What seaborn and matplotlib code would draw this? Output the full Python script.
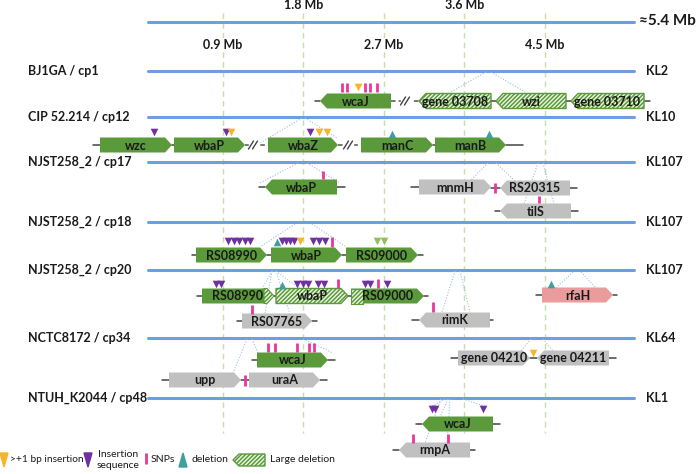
import matplotlib
matplotlib.use("Agg")
import matplotlib.pyplot as plt
from matplotlib.patches import Polygon, Rectangle
import pandas as pd
import seaborn as sns

# ---------------- data (schematic, pixel units) ----------------
mb_ticks = [0.9, 1.8, 2.7, 3.6, 4.5]
mb_top = ["1.8 Mb", "3.6 Mb"]
mb_low = ["0.9 Mb", "2.7 Mb", "4.5 Mb"]

genome_names = ["BJ1GA / cp1", "CIP 52.214 / cp12", "NJST258_2 / cp17", "NJST258_2 / cp18",
                "NJST258_2 / cp20", "NCTC8172 / cp34", "NTUH_K2044 / cp48"]
genome_kl = ["KL2", "KL10", "KL107", "KL107", "KL107", "KL64", "KL1"]
genome_y = [71, 117, 162, 222, 270, 338, 398]

gene_name = ["wcaJ", "gene 03708", "wzi", "gene 03710",
             "wzc", "wbaP", "wbaZ", "manC", "manB",
             "wbaP", "mnmH", "RS20315", "tilS",
             "RS08990", "wbaP", "RS09000",
             "RS08990", "wbaP", "RS09000", "RS07765", "rimK", "rfaH",
             "wcaJ", "upp", "uraA", "gene 04210", "gene 04211",
             "wcaJ", "rmpA"]
gene_x0 = [320, 419, 496, 571, 100, 174, 268, 361, 435, 265, 419, 500, 500,
           196, 271, 346, 202, 276, 351, 242, 419, 542, 257, 169, 249, 458, 537, 422, 399]
gene_x1 = [391, 491, 566, 644, 172, 245, 338, 433, 506, 337, 491, 570, 571,
           267, 342, 418, 274, 348, 424, 312, 490, 613, 328, 241, 320, 530, 609, 493, 470]
gene_y = [101, 101, 101, 101, 145, 145, 145, 145, 145, 187, 187, 188, 211,
          255, 255, 255, 296, 296, 296, 321, 320, 295, 360, 380, 380, 358, 358, 424, 450]
gene_dir = [-1, -1, -1, -1, 1, 1, 1, 1, 1, -1, 1, -1, -1,
            1, 1, 1, 1, 1, 1, 1, -1, 1, 1, 1, 1, 1, -1, -1, -1]
gene_kind = ["green", "hatch", "hatch", "hatch", "green", "green", "green", "green", "green",
             "green", "gray", "gray", "gray", "green", "green", "green",
             "tiphatch", "hatch", "basehatch", "gray", "gray", "pink",
             "green", "gray", "gray", "gray", "gray", "green", "gray"]

# backbone pieces: x0, x1, y, dashed?
bb_x0 = [315, 391, 491, 566, 644, 93, 172, 245, 338, 433, 506,
         259, 337, 411, 491, 570, 495, 571, 192, 267, 342, 418,
         197, 274, 348, 424, 237, 312, 412, 490, 536, 613,
         252, 328, 162, 241, 320, 451, 530, 609, 416, 493, 393, 470]
bb_x1 = [320, 419, 496, 571, 650, 100, 174, 268, 361, 435, 523,
         265, 345, 419, 500, 577, 500, 578, 196, 271, 346, 423,
         202, 276, 351, 428, 242, 317, 419, 493, 542, 617,
         257, 335, 169, 249, 327, 458, 537, 616, 422, 500, 399, 475]
bb_y = [101, 101, 101, 101, 101, 145, 145, 145, 145, 145, 145,
        187, 187, 187, 188, 188, 211, 211, 255, 255, 255, 255,
        296, 296, 296, 296, 321, 321, 320, 320, 295, 295,
        360, 360, 380, 380, 380, 358, 358, 358, 424, 424, 450, 450]
bb_dash = [False, True, False, False, False, False, False, True, True, False, False] + [False] * 33
break_x = [405, 253, 348]
break_y = [101, 145, 145]

# markers: x, y, type
mk_x = [358,
        154, 226, 231, 310, 319, 327, 392, 489,
        228, 233.5, 239, 244.5, 250, 277, 282, 286, 290, 294, 300, 313, 319, 325, 377, 384,
        216, 221, 282, 297, 303, 308, 318, 324, 365, 370, 387, 551,
        533, 432, 435, 483]
mk_y = [87,
        132, 132, 132, 132, 132, 132, 134, 134,
        241, 241, 241, 241, 241, 242, 241, 241, 241, 241, 241, 241, 241, 241, 241, 241,
        284, 284, 285, 284, 284, 284, 284, 284, 284, 284, 284, 284,
        353, 409, 409, 409]
mk_type = ["ins",
           "IS", "IS", "ins", "IS", "ins", "ins", "del", "del",
           "IS", "IS", "IS", "IS", "IS", "del", "IS", "IS", "IS", "IS", "ins", "IS", "IS", "IS", "other", "other",
           "IS", "IS", "del", "IS", "IS", "IS", "IS", "IS", "IS", "IS", "IS", "del",
           "ins", "IS", "IS", "IS"]

# SNPs: x, y0, y1
snp_x = [342, 347, 365, 370, 377, 323, 495, 539, 332, 338, 378, 252, 433,
         268, 275, 297, 309, 314, 245, 413, 448]
snp_y0 = [83, 83, 83, 83, 83, 171, 183, 196, 237, 279, 279, 305, 302,
          343, 343, 343, 343, 343, 375, 434, 434]
snp_y1 = [92, 92, 92, 92, 92, 179, 193, 203, 247, 288, 288, 314, 312,
          352, 352, 352, 352, 352, 386, 443, 443]

# dotted links from genome to genes
lk_x0 = [486, 491, 302, 305, 298, 307, 488, 496, 538, 543, 295, 312, 272, 276, 272, 276,
         455, 460, 573, 581, 247, 252, 303, 531, 543, 445, 448, 463, 441, 450]
lk_y0 = [72, 72, 118, 118, 163, 163, 163, 163, 163, 163, 224, 224, 271, 271, 271, 271,
         271, 271, 272, 272, 339, 339, 339, 339, 339, 399, 399, 399, 399, 399]
lk_x1 = [451, 525, 255, 337, 260, 340, 471, 515, 524, 554, 260, 345, 262, 300, 265, 290,
         442, 470, 556, 596, 233, 258, 333, 521, 553, 431, 440, 487, 425, 447]
lk_y1 = [92, 92, 146, 138, 183, 183, 180, 181, 204, 204, 247, 246, 289, 289, 314, 314,
         312, 312, 288, 288, 373, 353, 353, 351, 351, 407, 417, 407, 443, 443]

# ---------------- style ----------------
sns.set_theme(style="white")
plt.rcParams['font.family'] = ['Lato', 'DejaVu Sans']
plt.rcParams['hatch.linewidth'] = 1.1

BLUE = '#6f9ee0'
GREEN = '#5b9a3b'
GRAY = '#c0c0c0'
PINK = '#ea9c9c'
VGREEN = '#c5e0a8'
LINK = '#9cc2e8'
PURPLE = '#6f30a0'
YELLOW = '#f5b62c'
MAGENTA = '#e8389a'
TEAL = '#3f9f9f'
LGREEN = '#8fc156'
TXT = '#1a1a1a'
mk_colors = {"IS": PURPLE, "ins": YELLOW, "del": TEAL, "other": LGREEN}
mk_shapes = {"IS": "v", "ins": "v", "del": "^", "other": "v"}

fig = plt.figure(figsize=(6.96, 4.74), dpi=100)
ax = fig.add_axes([0, 0, 1, 1])


def mb_to_px(mb):
    return 142.5 + mb * 89.4


# vertical reference lines
for m in mb_ticks:
    ax.plot([mb_to_px(m)] * 2, [13, 433], ls=(0, (4, 3)), color=VGREEN, lw=1, zorder=0)

# genome lines (top scale + each genome)
gl = pd.DataFrame({
    "x": [148, 634] * (len(genome_y) + 1),
    "y": [y for y in [22] + genome_y for _ in range(2)],
    "row": [i for i in range(len(genome_y) + 1) for _ in range(2)],
})
sns.lineplot(data=gl, x="x", y="y", units="row", estimator=None, sort=False,
             color=BLUE, lw=2.2, ax=ax, zorder=1)

# links
for a, b, c, d in zip(lk_x0, lk_y0, lk_x1, lk_y1):
    ax.plot([a, c], [b, d], ls=(0, (1, 1.5)), color=LINK, lw=0.8, zorder=1)

# backbones
for a, b, y, dsh in zip(bb_x0, bb_x1, bb_y, bb_dash):
    ax.plot([a, b], [y, y], color='#444444' if not dsh else '#555555',
            ls=(0, (3, 2)) if dsh else '-', lw=1.1, zorder=2)
for bx, by in zip(break_x, break_y):
    ax.add_patch(Rectangle((bx - 4, by - 3), 9, 6, color='white', zorder=2))
    for off in (-2, 2):
        ax.plot([bx + off - 2.5, bx + off + 2.5], [by + 4, by - 4], color='#444444', lw=1, zorder=3)


def arrow_poly(x0, x1, y, d, h=15, hl=7):
    t, b = y - h / 2, y + h / 2
    if d > 0:
        return [(x0, t), (x1 - hl, t), (x1, y), (x1 - hl, b), (x0, b)]
    return [(x1, t), (x0 + hl, t), (x0, y), (x0 + hl, b), (x1, b)]


for name, x0, x1, y, d, kind in zip(gene_name, gene_x0, gene_x1, gene_y, gene_dir, gene_kind):
    pts = arrow_poly(x0, x1, y, d)
    if kind == "hatch":
        ax.add_patch(Polygon(pts, closed=True, facecolor='#eef6e6', edgecolor=GREEN,
                             hatch='////////', lw=1, zorder=4))
    else:
        fc = {"green": GREEN, "gray": GRAY, "pink": PINK}.get(kind, GREEN)
        ax.add_patch(Polygon(pts, closed=True, facecolor=fc, edgecolor='none', zorder=4))
        if kind == "tiphatch":
            ax.add_patch(Polygon([(x1 - 10, y - 7.5), (x1 - 7, y - 7.5), (x1, y), (x1 - 7, y + 7.5),
                                  (x1 - 10, y + 7.5)], closed=True, facecolor='#eef6e6',
                                 edgecolor=GREEN, hatch='////////', lw=0.8, zorder=5))
        if kind == "basehatch":
            ax.add_patch(Rectangle((x0, y - 7.5), 12, 15, facecolor='#eef6e6', edgecolor=GREEN,
                                   hatch='////////', lw=0.8, zorder=5))
    ax.text((x0 + x1) / 2, y + 0.5, name, ha='center', va='center', fontsize=9,
            fontweight='bold', color=TXT, zorder=6)

# SNPs
ax.vlines(snp_x, snp_y0, snp_y1, color=MAGENTA, lw=2, zorder=5)

# insertion / deletion markers
mk = pd.DataFrame({"x": mk_x, "y": mk_y, "t": mk_type})
for t, sub in mk.groupby("t"):
    sns.scatterplot(data=sub, x="x", y="y", marker=mk_shapes[t], color=mk_colors[t],
                    s=30, linewidth=0, ax=ax, zorder=6, legend=False)

# labels
for name, kl, y in zip(genome_names, genome_kl, genome_y):
    ax.text(28, y, name, ha='left', va='center', fontsize=9, fontweight='bold', color=TXT)
    ax.text(646, y, kl, ha='left', va='center', fontsize=9, fontweight='bold', color=TXT)

for lab, m in zip(mb_top, [1.8, 3.6]):
    ax.text(mb_to_px(m), 5, lab, ha='center', va='center', fontsize=9, fontweight='bold',
            color=TXT, bbox=dict(fc='white', ec='none', pad=0.5))
for lab, m in zip(mb_low, [0.9, 2.7, 4.5]):
    ax.text(mb_to_px(m), 45, lab, ha='center', va='center', fontsize=9, fontweight='bold',
            color=TXT, bbox=dict(fc='white', ec='none', pad=0.5))
ax.text(639, 21, "≈5.4 Mb", ha='left', va='center', fontsize=11, fontweight='bold', color=TXT)

# legend
ly = 460
ax.add_patch(Polygon([(0, 453), (8, 453), (4, 467)], closed=True, color=YELLOW))
ax.text(10, ly, ">+1 bp insertion", ha='left', va='center', fontsize=7.3, color=TXT)
ax.add_patch(Polygon([(84, 453), (92, 453), (88, 467)], closed=True, color=PURPLE))
ax.text(118, ly, "Insertion\nsequence", ha='center', va='center', fontsize=7.5,
        color=TXT, linespacing=1.2)
ax.vlines([146], 453, 464, color=MAGENTA, lw=2)
ax.text(151, ly, "SNPs", ha='left', va='center', fontsize=7.5, color=TXT)
ax.add_patch(Polygon([(179, 467), (187, 467), (183, 453)], closed=True, color=TEAL))
ax.text(191, ly, "deletion", ha='left', va='center', fontsize=7.5, color=TXT)
ax.add_patch(Polygon(arrow_poly(233, 265, ly, -1, h=12, hl=6), closed=True, facecolor='#eef6e6',
                     edgecolor=GREEN, hatch='////////', lw=1))
ax.text(270, ly, "Large deletion", ha='left', va='center', fontsize=7.5, color=TXT)

ax.set_xlim(0, 696)
ax.set_ylim(474, 0)
ax.axis('off')
fig.savefig("out.png", dpi=100)
